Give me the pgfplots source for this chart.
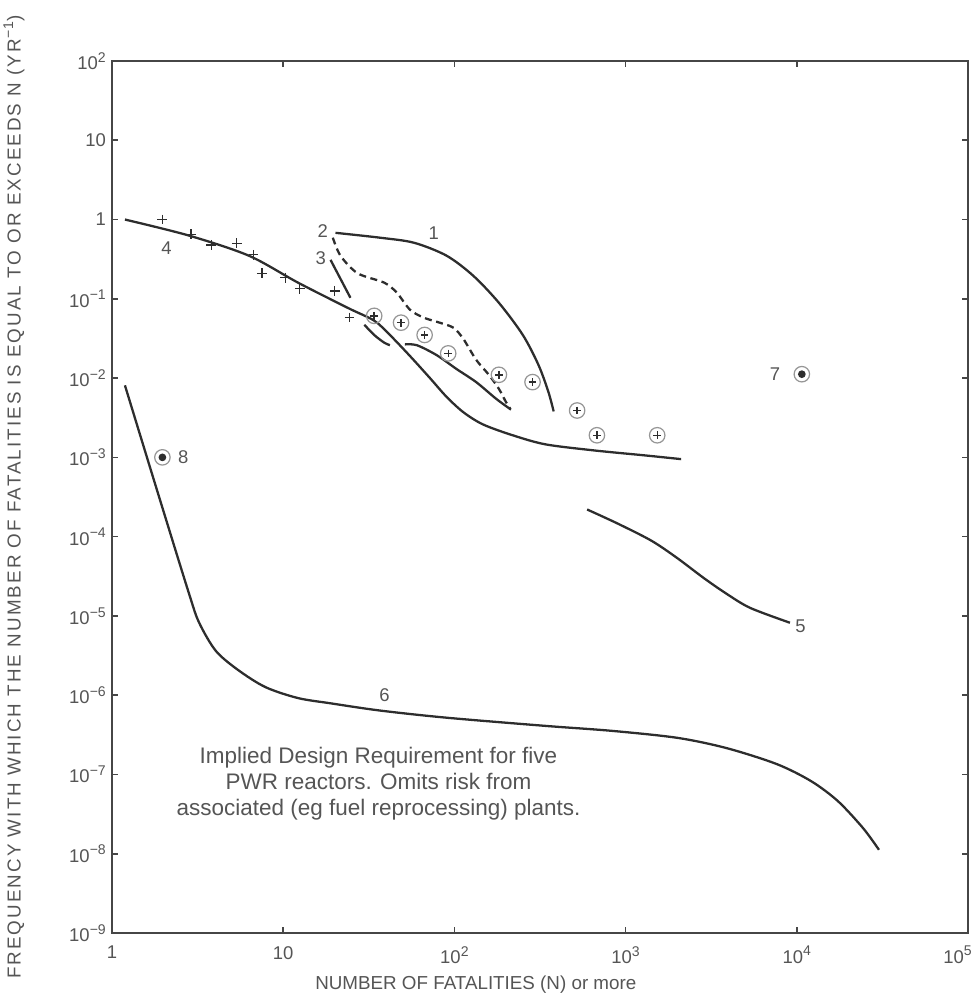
\documentclass[border=0pt]{standalone}
\usepackage{fontspec}
\setmainfont{Liberation Sans}
\usepackage{pgfplots}
\pgfplotsset{compat=1.18}
\usetikzlibrary{plotmarks}
\definecolor{curvecol}{RGB}{45,45,45}
\definecolor{txtcol}{RGB}{85,85,85}
\definecolor{axcol}{RGB}{70,70,70}
\definecolor{ringcol}{RGB}{150,150,150}
\newcommand{\sps}[1]{\raisebox{0.75ex}{\fontsize{8}{9}\selectfont #1}}

\begin{document}
\begin{tikzpicture}
\useasboundingbox (-2.24cm,-1.38cm) rectangle (17.22cm,18.66cm);
\begin{axis}[
  at={(0,0)}, anchor=south west, scale only axis,
  width=17.12cm, height=17.44cm,
  xmode=log, ymode=log,
  xmin=1, xmax=1e5, ymin=1e-9, ymax=1e2,
  xtick={1,10,100,1000,10000,100000},
  xticklabels={1,10,10\sps{2},10\sps{3},10\sps{4},\makebox[0pt]{\hspace*{-12pt}10\sps{5}}},
  ytick={1e-9,1e-8,1e-7,1e-6,1e-5,1e-4,1e-3,1e-2,1e-1,1,10,100},
  yticklabels={10\sps{−9},10\sps{−8},10\sps{−7},10\sps{−6},10\sps{−5},10\sps{−4},
               10\sps{−3},10\sps{−2},10\sps{−1},1,10,10\sps{2}},
  minor tick style={draw=none},
  tick align=inside, major tick length=0.12cm,
  axis line style={line width=1.1pt, color=axcol},
  tick style={line width=0.9pt, color=axcol},
  tick label style={font=\fontsize{10.5}{12}\selectfont, text=txtcol},
  xticklabel style={yshift=-4pt},
  clip=false,
  every axis plot/.append style={curvecol, line width=1.3pt},
]
  % curve 4
  \addplot[smooth] coordinates {
    (1.19,1.0)(2.8,0.63)(6.3,0.35)(12.2,0.16)(23.8,0.077)(34,0.053)
    (42,0.035)(55,0.019)(72,0.010)(90,0.0058)(113,0.0037)(147,0.0026)
    (219,0.0019)(340,0.00146)(662,0.00122)(1290,0.00106)(2110,0.00095)};
  % curve 1
  \addplot[smooth] coordinates {
    (20.2,0.68)(36.8,0.59)(58,0.51)(90,0.35)(129,0.195)(182,0.089)
    (251,0.035)(310,0.0146)(354,0.0067)(380,0.0038)};
  % curve 2 (dashed)
  \addplot[smooth, dash pattern=on 4pt off 2.6pt] coordinates {
    (19.5,0.59)(21.6,0.35)(27.2,0.21)(38.9,0.16)(46,0.12)(55,0.073)
    (66,0.058)(82,0.050)(99,0.043)(113,0.031)(134,0.017)(159,0.011)
    (182,0.0073)(200,0.0050)(212,0.0041)};
  % curve 3
  \addplot[smooth] coordinates {(18.9,0.31)(24.7,0.103)};
  \addplot[smooth] coordinates {(29.8,0.047)(34,0.035)(38.9,0.028)(42,0.026)};
  \addplot[smooth] coordinates {
    (51.4,0.0266)(60.3,0.026)(78.7,0.0195)(103,0.013)(134,0.0089)
    (175,0.0055)(214,0.0040)};
  % curve 5
  \addplot[smooth] coordinates {
    (596,2.2e-4)(900,1.46e-4)(1413,8.9e-5)(1995,5.4e-5)(2864,3.0e-5)
    (3890,1.9e-5)(5350,1.26e-5)(9120,8.2e-6)};
  % curve 6
  \addplot[smooth] coordinates {
    (1.19,8.1e-3)(1.89,3.1e-4)(2.82,1.9e-5)(3.23,8.2e-6)(4.05,3.6e-6)
    (5.5,2.05e-6)(7.9,1.26e-6)(12.2,9.2e-7)(18.9,7.9e-7)
    (36.8,6.4e-7)(90,5.2e-7)(340,4.1e-7)(830,3.55e-7)(2000,2.9e-7)
    (3890,2.15e-7)(7650,1.35e-7)(12160,8.2e-8)(17400,4.6e-8)
    (24400,2.1e-8)(30200,1.12e-8)};
  % crosses
  \addplot[only marks, mark=+, mark size=2.8pt, line width=0.8pt] coordinates {
    (1.97,1.0)(2.9,0.65)(3.8,0.48)(5.35,0.50)(6.7,0.36)(7.5,0.21)
    (10.3,0.185)(12.5,0.134)(20,0.126)(24.4,0.058)};
  % circled crosses
  \addplot[only marks, mark=o, mark size=4.4pt, line width=0.7pt, ringcol] coordinates {
    (34,0.061)(48.8,0.050)(67,0.035)(92,0.0205)(182,0.011)(286,0.0089)
    (521,0.0039)(680,0.0019)(1530,0.0019)};
  \addplot[only marks, mark=+, mark size=2.2pt, line width=0.8pt] coordinates {
    (34,0.061)(48.8,0.050)(67,0.035)(92,0.0205)(182,0.011)(286,0.0089)
    (521,0.0039)(680,0.0019)(1530,0.0019)};
  % dotted circles
  \addplot[only marks, mark=o, mark size=4.4pt, line width=0.7pt, ringcol] coordinates {
    (10700,0.0112)(1.97,0.001)};
  \addplot[only marks, mark=*, mark size=1.5pt] coordinates {
    (10700,0.0112)(1.97,0.001)};

  % curve labels
  \begin{scope}[every node/.style={font=\fontsize{10.5}{12}\selectfont, text=txtcol}]
    \node at (axis cs:75.7,0.68) {1};
    \node at (axis cs:17,0.72) {2};
    \node at (axis cs:16.6,0.33) {3};
    \node at (axis cs:2.08,0.43) {4};
    \node at (axis cs:10500,7.5e-6) {5};
    \node at (axis cs:39,1e-6) {6};
    \node at (axis cs:7470,0.0112) {7};
    \node at (axis cs:2.61,0.001) {8};
  \end{scope}
  \node[align=center, font=\fontsize{12.8}{14.7}\selectfont, text=txtcol]
    at (axis cs:36,7.7e-8)
    {Implied Design Requirement for five\\PWR reactors. Omits risk from\\associated (eg fuel reprocessing) plants.};

  % axis titles
  \node[font=\fontsize{10.7}{12}\selectfont, text=txtcol]
    at (rel axis cs:0.425,-0.0596) {NUMBER OF FATALITIES (N) or more};
  \node[rotate=90, font=\fontsize{10.7}{12}\selectfont\addfontfeatures{LetterSpace=11}, text=txtcol]
    at (rel axis cs:-0.1145,0.5)
    {FREQUENCY WITH WHICH THE NUMBER OF FATALITIES IS EQUAL TO OR EXCEEDS N (YR\sps{−1})};
\end{axis}
\end{tikzpicture}
\end{document}
